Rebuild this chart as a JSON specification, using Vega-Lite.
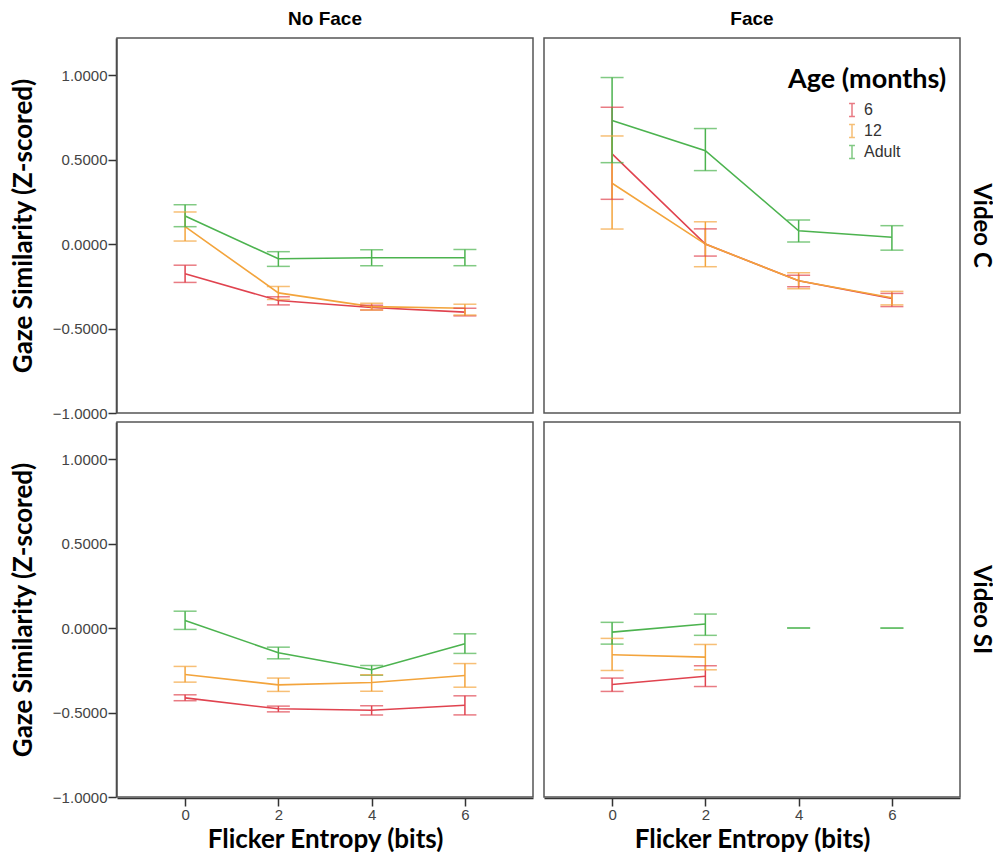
{
  "$schema": "https://vega.github.io/schema/vega-lite/v6.json",
  "padding": {"left": 10, "top": 10, "right": 0, "bottom": 0},
  "background": "white",
  "data": {"values": [
    {"face":"No Face","video":"Video C","age":"6","entropy":0,"mean":-0.176,"lo":-0.227,"hi":-0.125},
    {"face":"No Face","video":"Video C","age":"6","entropy":2,"mean":-0.334,"lo":-0.36,"hi":-0.312},
    {"face":"No Face","video":"Video C","age":"6","entropy":4,"mean":-0.375,"lo":-0.39,"hi":-0.362},
    {"face":"No Face","video":"Video C","age":"6","entropy":6,"mean":-0.403,"lo":-0.425,"hi":-0.38},
    {"face":"No Face","video":"Video C","age":"12","entropy":0,"mean":0.103,"lo":0.018,"hi":0.19},
    {"face":"No Face","video":"Video C","age":"12","entropy":2,"mean":-0.289,"lo":-0.328,"hi":-0.251},
    {"face":"No Face","video":"Video C","age":"12","entropy":4,"mean":-0.37,"lo":-0.39,"hi":-0.35},
    {"face":"No Face","video":"Video C","age":"12","entropy":6,"mean":-0.38,"lo":-0.42,"hi":-0.356},
    {"face":"No Face","video":"Video C","age":"Adult","entropy":0,"mean":0.166,"lo":0.103,"hi":0.233},
    {"face":"No Face","video":"Video C","age":"Adult","entropy":2,"mean":-0.087,"lo":-0.132,"hi":-0.045},
    {"face":"No Face","video":"Video C","age":"Adult","entropy":4,"mean":-0.081,"lo":-0.128,"hi":-0.034},
    {"face":"No Face","video":"Video C","age":"Adult","entropy":6,"mean":-0.081,"lo":-0.128,"hi":-0.032},
    {"face":"Face","video":"Video C","age":"6","entropy":0,"mean":0.534,"lo":0.265,"hi":0.81},
    {"face":"Face","video":"Video C","age":"6","entropy":2,"mean":0.0,"lo":-0.071,"hi":0.09},
    {"face":"Face","video":"Video C","age":"6","entropy":4,"mean":-0.217,"lo":-0.253,"hi":-0.184},
    {"face":"Face","video":"Video C","age":"6","entropy":6,"mean":-0.322,"lo":-0.37,"hi":-0.292},
    {"face":"Face","video":"Video C","age":"12","entropy":0,"mean":0.36,"lo":0.089,"hi":0.64},
    {"face":"Face","video":"Video C","age":"12","entropy":2,"mean":0.0,"lo":-0.134,"hi":0.132},
    {"face":"Face","video":"Video C","age":"12","entropy":4,"mean":-0.217,"lo":-0.265,"hi":-0.17},
    {"face":"Face","video":"Video C","age":"12","entropy":6,"mean":-0.318,"lo":-0.36,"hi":-0.28},
    {"face":"Face","video":"Video C","age":"Adult","entropy":0,"mean":0.731,"lo":0.482,"hi":0.986},
    {"face":"Face","video":"Video C","age":"Adult","entropy":2,"mean":0.553,"lo":0.435,"hi":0.684},
    {"face":"Face","video":"Video C","age":"Adult","entropy":4,"mean":0.079,"lo":0.012,"hi":0.142},
    {"face":"Face","video":"Video C","age":"Adult","entropy":6,"mean":0.04,"lo":-0.036,"hi":0.109},
    {"face":"No Face","video":"Video SI","age":"6","entropy":0,"mean":-0.413,"lo":-0.43,"hi":-0.395},
    {"face":"No Face","video":"Video SI","age":"6","entropy":2,"mean":-0.478,"lo":-0.496,"hi":-0.462},
    {"face":"No Face","video":"Video SI","age":"6","entropy":4,"mean":-0.486,"lo":-0.514,"hi":-0.46},
    {"face":"No Face","video":"Video SI","age":"6","entropy":6,"mean":-0.457,"lo":-0.514,"hi":-0.401},
    {"face":"No Face","video":"Video SI","age":"12","entropy":0,"mean":-0.275,"lo":-0.32,"hi":-0.227},
    {"face":"No Face","video":"Video SI","age":"12","entropy":2,"mean":-0.336,"lo":-0.375,"hi":-0.296},
    {"face":"No Face","video":"Video SI","age":"12","entropy":4,"mean":-0.322,"lo":-0.374,"hi":-0.277},
    {"face":"No Face","video":"Video SI","age":"12","entropy":6,"mean":-0.281,"lo":-0.35,"hi":-0.21},
    {"face":"No Face","video":"Video SI","age":"Adult","entropy":0,"mean":0.045,"lo":-0.008,"hi":0.1},
    {"face":"No Face","video":"Video SI","age":"Adult","entropy":2,"mean":-0.146,"lo":-0.182,"hi":-0.113},
    {"face":"No Face","video":"Video SI","age":"Adult","entropy":4,"mean":-0.247,"lo":-0.279,"hi":-0.221},
    {"face":"No Face","video":"Video SI","age":"Adult","entropy":6,"mean":-0.093,"lo":-0.15,"hi":-0.034},
    {"face":"Face","video":"Video SI","age":"6","entropy":0,"mean":-0.334,"lo":-0.375,"hi":-0.296},
    {"face":"Face","video":"Video SI","age":"6","entropy":2,"mean":-0.285,"lo":-0.346,"hi":-0.223},
    {"face":"Face","video":"Video SI","age":"12","entropy":0,"mean":-0.158,"lo":-0.251,"hi":-0.061},
    {"face":"Face","video":"Video SI","age":"12","entropy":2,"mean":-0.172,"lo":-0.247,"hi":-0.097},
    {"face":"Face","video":"Video SI","age":"Adult","entropy":0,"mean":-0.024,"lo":-0.095,"hi":0.034},
    {"face":"Face","video":"Video SI","age":"Adult","entropy":2,"mean":0.024,"lo":-0.043,"hi":0.083},
    {"face":"Face","video":"Video SI","age":"Adult","entropy":4,"mean":null,"lo":0,"hi":0},
    {"face":"Face","video":"Video SI","age":"Adult","entropy":6,"mean":null,"lo":0,"hi":0}
  ]},
  "facet": {
    "column": {"field": "face", "type": "nominal", "sort": ["No Face", "Face"],
      "header": {"title": null, "labelFont": "Liberation Sans", "labelFontWeight": "bold", "labelFontSize": 19, "labelColor": "#000", "labelPadding": 8}},
    "row": {"field": "video", "type": "nominal", "sort": ["Video C", "Video SI"],
      "header": {"title": null, "labelOrient": "right", "labelAngle": 90, "labelFont": "Lato", "labelFontWeight": "bold", "labelFontSize": 24, "labelColor": "#000", "labelPadding": 8}}
  },
  "spacing": {"column": 9, "row": 7},
  "spec": {
    "width": 416,
    "height": 375,
    "encoding": {
      "x": {"field": "entropy", "type": "quantitative", "scale": {"domain": [-1.46, 7.46], "nice": false, "zero": false},
        "axis": {"values": [0, 2, 4, 6], "title": "Flicker Entropy (bits)", "grid": false}},
      "color": {"field": "age", "type": "nominal", "scale": {"domain": ["6", "12", "Adult"], "range": ["#e0434f", "#f3a43c", "#4cb34f"]},
        "legend": {"title": "Age (months)", "orient": "none", "legendX": 671, "legendY": 29, "symbolType": "M-0.45,-1H0.45M0,-1V1M-0.45,1H0.45", "symbolSize": 170, "symbolStrokeWidth": 1.5, "symbolFillColor": "transparent", "symbolOffset": 56,
          "titleFont": "Lato", "titleFontWeight": "bold", "titleFontSize": 27, "titleColor": "#000", "titlePadding": 8,
          "labelFont": "Liberation Sans", "labelFontSize": 16, "labelColor": "#333", "rowPadding": 1, "labelOffset": 4}}
    },
    "layer": [
      {"transform": [{"filter": "datum.age == '6' && datum.entropy == 0"}],
       "mark": {"type": "rule", "strokeDash": [4, 3], "strokeWidth": 2, "color": "#222"},
       "encoding": {"y": {"datum": 0}, "color": {"value": "#222"}}},
      {"transform": [{"filter": "isValid(datum.mean)"}],
       "mark": {"type": "line", "strokeWidth": 1.6},
       "encoding": {"y": {"field": "mean", "type": "quantitative"}, "detail": {"field": "age"}}},
      {"mark": {"type": "rule", "strokeWidth": 1.5},
       "encoding": {"y": {"field": "lo", "type": "quantitative"}, "y2": {"field": "hi"}}},
      {"mark": {"type": "tick", "orient": "horizontal", "size": 23, "thickness": 1.5},
       "encoding": {"y": {"field": "lo", "type": "quantitative"}}},
      {"mark": {"type": "tick", "orient": "horizontal", "size": 23, "thickness": 1.5},
       "encoding": {"y": {"field": "hi", "type": "quantitative",
         "scale": {"domain": [-1, 1.22], "nice": false, "zero": false},
         "axis": {"values": [-1, -0.5, 0, 0.5, 1], "format": ".4f", "title": "Gaze Similarity (Z-scored)", "grid": false}}}}
    ]
  },
  "resolve": {"scale": {"x": "shared", "y": "shared"}},
  "config": {
    "view": {"stroke": "#555", "strokeWidth": 1.5},
    "axis": {
      "domainColor": "#333", "domainWidth": 1.5, "tickColor": "#333", "tickWidth": 1.5, "tickSize": 8,
      "labelFont": "Liberation Sans", "labelFontSize": 15, "labelColor": "#444", "labelPadding": 1,
      "titleFont": "Lato", "titleFontWeight": "bold", "titleFontSize": 26, "titleColor": "#000"
    },
    "axisX": {"titlePadding": 4},
    "axisY": {"titlePadding": 16}
  }
}
